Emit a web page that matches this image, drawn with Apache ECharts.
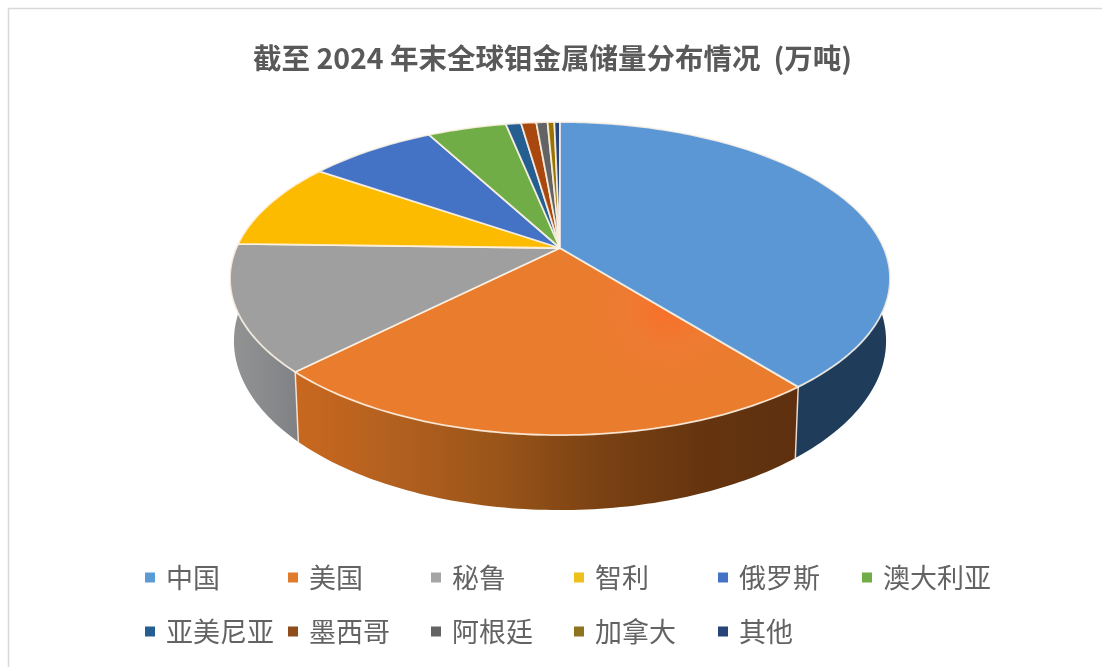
<!DOCTYPE html>
<html><head><meta charset="utf-8">
<style>html,body{margin:0;padding:0;background:#fff}#c{width:1102px;height:667px}</style>
<script src="https://cdn.jsdelivr.net/npm/echarts@6/dist/echarts.min.js"></script>
</head><body><div id="c"></div>
<script>
const categories = ['中国','美国','秘鲁','智利','俄罗斯','澳大利亚','亚美尼亚','墨西哥','阿根廷','加拿大','其他'];
const values = [590,348,195,137,114,70,13.5,13.5,10,6,5];
const topColors = ['#5b97d5','#ed7d31','#9f9fa0','#fdbb00','#4472c4','#70ad47','#255e91','#a8480e','#636363','#997300','#264478'];
const legendColors = ['#5b9bd5','#e07b2c','#a5a5a5','#edc01c','#4472c4','#70ad47','#255e91','#8f4d1c','#636363','#8f7420','#264478'];
const titleText = '截至 2024 年末全球钼金属储量分布情况  (万吨)';

const total = values.reduce((a,b)=>a+b,0);
const CX=560, CY=248, B=0.195, A=150.6, C=323.7;
function topPt(t){ const x=Math.sin(t), y=Math.cos(t), w=1+B*y; return [CX+C*x/w, CY-A*y/w]; }
function botPt(t){ const p=topPt(t); return [CX+(p[0]-CX)*0.988, CY+60+(p[1]-CY)*1.08]; }
function arc(fn,a,b){ const n=Math.max(2,Math.ceil((b-a)/(Math.PI/180))), r=[]; for(let i=0;i<=n;i++) r.push(fn(a+(b-a)*i/n)); return r; }
function grad(stops){ return new echarts.graphic.LinearGradient(0,0,1,0,stops.map((c,i)=>({offset:stops.length>1?i/(stops.length-1):0,color:c}))); }
function sideFill(i){
  if(i===0) return '#1f3d5a';
  if(i===1) return grad(['#c9681f','#b2601f','#9a5519','#7b4213','#66350f','#5e300f']);
  if(i===2) return grad(['#939393','#898b8d','#7f8184']);
  return '#555';
}
function topFill(i){
  if(i===1) return new echarts.graphic.RadialGradient(0.74,0.32,0.5,[
    {offset:0,color:'#f8702a'},{offset:0.45,color:'#ee7b32'},{offset:1,color:'#e97c2d'}]);
  return topColors[i];
}
function renderSlice(i){
  return function(params,api){
    const before=values.slice(0,i).reduce((a,b)=>a+b,0);
    const a=before/total*2*Math.PI, b=(before+values[i])/total*2*Math.PI;
    const kids=[];
    const sa=Math.max(a,Math.PI/2), sb=Math.min(b,Math.PI*3/2);
    if(sb>sa){
      const pts=arc(topPt,sa,sb).concat(arc(botPt,sa,sb).reverse());
      kids.push({type:'polygon',z2:1,shape:{points:pts},style:{fill:sideFill(i)}});
      if(sb<Math.PI*3/2){
        kids.push({type:'line',z2:2,shape:{x1:topPt(sb)[0],y1:topPt(sb)[1],x2:botPt(sb)[0],y2:botPt(sb)[1]},style:{stroke:'rgba(255,240,225,.85)',lineWidth:1.5}});
      }
    }
    const pts=[[CX,CY]].concat(arc(topPt,a,b));
    kids.push({type:'polygon',z2:10+(i===0?1:0),shape:{points:pts},style:{fill:topFill(i),stroke:'rgba(255,245,232,.85)',lineWidth:1.8,lineJoin:'round'}});
    return {type:'group',children:kids};
  };
}
const legendCols=[145,288,431,574,718,862];
const legend=categories.map((n,i)=>({
  data:[n], left:legendCols[i%6], top:i<6?564:618, orient:'horizontal',
  icon:'rect', itemWidth:10, itemHeight:10, padding:0, selectedMode:false,
  textStyle:{fontSize:27,color:'#636363',fontFamily:'"Noto Sans CJK SC"',padding:[0,0,0,6]}
}));
const chart=echarts.init(document.getElementById('c'),null,{renderer:'canvas'});
chart.setOption({
  animation:false, backgroundColor:'#fff',
  title:{text:titleText,left:552.5,textAlign:'center',top:44,itemGap:0,padding:0,
    textStyle:{fontSize:28.5,fontWeight:'bold',color:'#595959',fontFamily:'"Noto Sans CJK SC"'}},
  legend:legend,
  graphic:[{type:'polyline',silent:true,shape:{points:[[8.5,680],[8.5,8.5],[1110,8.5]]},style:{fill:'none',stroke:'#d9d9d9',lineWidth:1.5}}],
  series:categories.map((n,i)=>({
    type:'custom',name:n,coordinateSystem:'none',silent:true,
    itemStyle:{color:legendColors[i]},data:[[values[i]]],renderItem:renderSlice(i)
  }))
});
</script></body></html>
